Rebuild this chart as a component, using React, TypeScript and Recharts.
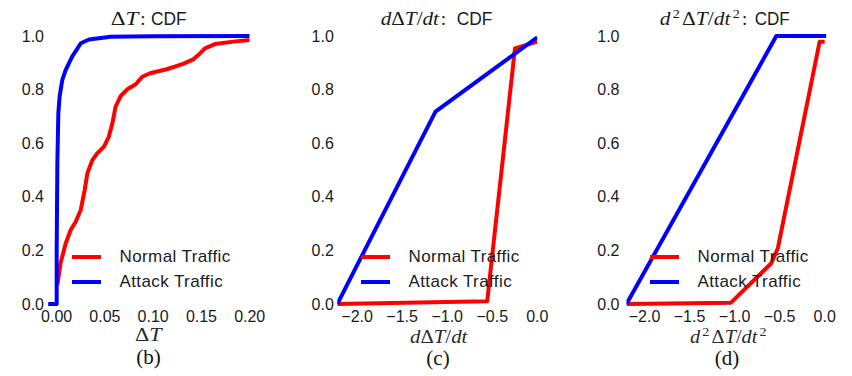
import React from 'react';
import { LineChart, Line, XAxis, YAxis, Legend } from 'recharts';

const RED = '#ff0000';
const BLUE = '#0000ff';
const INK = '#1a1a1a';
const SANS = '"Liberation Sans", Arial, Helvetica, sans-serif';
const SERIF = '"Liberation Serif", "Times New Roman", serif';

const seriesNames = ['Normal Traffic', 'Attack Traffic'];
const cdfTicks = [0, 0.2, 0.4, 0.6, 0.8, 1.0];

// (b) ΔT
const dtTicks = [0, 0.05, 0.1, 0.15, 0.2];
const dtNormalX = [0.0007, 0.004, 0.0093, 0.0145, 0.0197, 0.0249, 0.029, 0.0318, 0.037, 0.042, 0.049, 0.054, 0.0577, 0.061, 0.0663, 0.0732, 0.0819, 0.0887, 0.0967, 0.114, 0.131, 0.1416, 0.1485, 0.1537, 0.164, 0.183, 0.2];
const dtNormalY = [0.071, 0.152, 0.226, 0.276, 0.307, 0.351, 0.425, 0.488, 0.537, 0.562, 0.587, 0.624, 0.674, 0.736, 0.776, 0.801, 0.82, 0.848, 0.861, 0.876, 0.896, 0.913, 0.935, 0.954, 0.97, 0.979, 0.985];
const dtAttackX = [-0.0088, 0, 0, 0.0007, 0.0017, 0.003, 0.0058, 0.0093, 0.016, 0.025, 0.0335, 0.056, 0.1, 0.2];
const dtAttackY = [0, 0, 0.2, 0.525, 0.71, 0.774, 0.836, 0.873, 0.923, 0.973, 0.987, 0.997, 0.999, 1.0];

// (c) dΔT/dt
const derivTicks = [-2, -1.5, -1, -0.5, 0];
const d1NormalX = [-2.22, -0.556, -0.248, 0];
const d1NormalY = [0, 0.01, 0.954, 0.979];
const d1AttackX = [-2.22, -1.13, 0];
const d1AttackY = [0, 0.718, 0.995];

// (d) d²ΔT/dt²
const d2NormalX = [-2.2, -1.04, -0.593, -0.52, -0.056, 0];
const d2NormalY = [0, 0.005, 0.152, 0.208, 0.979, 0.979];
const d2AttackX = [-2.2, -0.537, 0.018];
const d2AttackY = [0, 1, 1];

const zip = (xs: number[], ys: number[]) => xs.map((x, i) => ({ x, y: ys[i] }));

const fmtMinus = (d: number) => (v: number) => v.toFixed(d).replace('-', '\u2212');

const CdfLegend = (props: any) => {
  const items = [...(props.payload || [])].sort(
    (a: any, b: any) => seriesNames.indexOf(a.value) - seriesNames.indexOf(b.value)
  );
  return (
    <div style={{ fontFamily: SANS, fontSize: 17, letterSpacing: 0.4, color: INK }}>
      {items.map((it: any) => (
        <div key={it.value} style={{ display: 'flex', alignItems: 'center', height: 24.4, whiteSpace: 'nowrap' }}>
          <span style={{ display: 'inline-block', width: 28.5, height: 4, background: it.color, marginRight: 19 }} />
          <span>{it.value}</span>
        </div>
      ))}
    </div>
  );
};

interface PanelProps {
  chartLeft: number;
  chartWidth: number;
  plotLeft: number;
  plotRight: number;
  domain: [number, number];
  ticks: number[];
  xFmt: (v: number) => string;
  normal: { x: number; y: number }[];
  attack: { x: number; y: number }[];
  yMargin: number;
  legendX: number;
}

const Panel: React.FC<PanelProps> = (p) => {
  const tickStyle = { fontFamily: SANS, fontSize: 16, fill: INK };
  return (
    <div style={{ position: 'absolute', left: p.chartLeft, top: 0 }}>
      <LineChart
        width={p.chartWidth}
        height={376}
        margin={{ top: 36, right: p.chartLeft + p.chartWidth - p.plotRight, bottom: 42, left: 0 }}
      >
        <XAxis
          dataKey="x"
          type="number"
          domain={p.domain}
          ticks={p.ticks}
          tickFormatter={p.xFmt}
          allowDataOverflow
          axisLine={false}
          tickLine={false}
          tickSize={0}
          tickMargin={7}
          height={30}
          tick={tickStyle}
          interval={0}
        />
        <YAxis
          type="number"
          domain={[0, 1]}
          ticks={cdfTicks}
          tickFormatter={(v: number) => v.toFixed(1)}
          axisLine={false}
          tickLine={false}
          tickSize={0}
          tickMargin={p.yMargin}
          width={p.plotLeft - p.chartLeft}
          tick={tickStyle}
          interval={0}
        />
        <Legend
          layout="horizontal"
          verticalAlign="middle"
          align="center"
          itemSorter={null as any}
          content={CdfLegend}
          wrapperStyle={{ left: p.legendX - p.chartLeft, top: 245, width: 200 }}
        />
        <Line data={p.normal} dataKey="y" name={seriesNames[0]} type="linear" stroke={RED} strokeWidth={4}
          strokeLinejoin="round" dot={false} activeDot={false} isAnimationActive={false} />
        <Line data={p.attack} dataKey="y" name={seriesNames[1]} type="linear" stroke={BLUE} strokeWidth={4}
          strokeLinejoin="round" dot={false} activeDot={false} isAnimationActive={false} />
      </LineChart>
    </div>
  );
};

const math = { fontFamily: SERIF, fontSize: 19, fill: INK };
const cdf = { fontFamily: SANS, fontSize: 17.5, fill: INK };
const xlab = { fontFamily: SERIF, fontSize: 18, fill: '#2a2a2a' };
const letter = { fontFamily: SERIF, fontSize: 21, fill: '#111' };

const Overlay = () => (
  <svg width={852} height={376} style={{ position: 'absolute', left: 0, top: 0, pointerEvents: 'none' }}>
    {/* titles */}
    <text x={110.7} y={25} textLength={27.6} lengthAdjust="spacingAndGlyphs" style={math}>
      <tspan>Δ</tspan><tspan fontStyle="italic">T</tspan>
    </text>
    <text x={143} y={25} textAnchor="middle" style={math}>:</text>
    <text x={151} y={25} textLength={35.7} lengthAdjust="spacingAndGlyphs" style={cdf}>CDF</text>

    <text x={380.7} y={25} textLength={58.3} lengthAdjust="spacingAndGlyphs" style={math}>
      <tspan fontStyle="italic">d</tspan><tspan>Δ</tspan><tspan fontStyle="italic">T</tspan><tspan>/</tspan><tspan fontStyle="italic">dt</tspan>
    </text>
    <text x={443.3} y={25} textAnchor="middle" style={math}>:</text>
    <text x={456.7} y={25} textLength={35.6} lengthAdjust="spacingAndGlyphs" style={cdf}>CDF</text>

    <text x={659.7} y={25} textLength={80} lengthAdjust="spacingAndGlyphs" style={math}>
      <tspan fontStyle="italic">d</tspan><tspan fontSize={12.5} dx={2} dy={-7}>2</tspan><tspan dx={2} dy={7}>Δ</tspan>
      <tspan fontStyle="italic">T</tspan><tspan>/</tspan><tspan fontStyle="italic">dt</tspan>
      <tspan fontSize={12.5} dx={2} dy={-7}>2</tspan>
    </text>
    <text x={744.7} y={25} textAnchor="middle" style={math}>:</text>
    <text x={754.7} y={25} textLength={35} lengthAdjust="spacingAndGlyphs" style={cdf}>CDF</text>

    {/* x labels */}
    <text x={148.4} y={341} textAnchor="middle" textLength={26.7} lengthAdjust="spacingAndGlyphs" style={xlab}>
      <tspan>Δ</tspan><tspan fontStyle="italic">T</tspan>
    </text>
    <text x={438.7} y={342.5} textAnchor="middle" textLength={57.3} lengthAdjust="spacingAndGlyphs" style={xlab}>
      <tspan fontStyle="italic">d</tspan><tspan>Δ</tspan><tspan fontStyle="italic">T</tspan><tspan>/</tspan><tspan fontStyle="italic">dt</tspan>
    </text>
    <text x={728.3} y={342.5} textAnchor="middle" textLength={76.7} lengthAdjust="spacingAndGlyphs" style={xlab}>
      <tspan fontStyle="italic">d</tspan><tspan fontSize={12.5} dx={2} dy={-7}>2</tspan><tspan dx={2} dy={7}>Δ</tspan>
      <tspan fontStyle="italic">T</tspan><tspan>/</tspan><tspan fontStyle="italic">dt</tspan>
      <tspan fontSize={12.5} dx={2} dy={-7}>2</tspan>
    </text>

    {/* panel letters */}
    <text x={148.4} y={364} textAnchor="middle" style={letter}>(b)</text>
    <text x={438} y={365} textAnchor="middle" style={letter}>(c)</text>
    <text x={727} y={365} textAnchor="middle" style={letter}>(d)</text>
  </svg>
);

export default function App() {
  return (
    <div style={{ position: 'absolute', left: 0, top: 0, width: 852, height: 376, background: '#fff', overflow: 'hidden' }}>
      <Panel
        chartLeft={0}
        chartWidth={280}
        plotLeft={48}
        plotRight={249.7}
        domain={[-0.009, 0.2]}
        ticks={dtTicks}
        xFmt={(v: number) => v.toFixed(2)}
        normal={zip(dtNormalX, dtNormalY)}
        attack={zip(dtAttackX, dtAttackY)}
        yMargin={4}
        legendX={72}
      />
      <Panel
        chartLeft={280}
        chartWidth={280}
        plotLeft={337.3}
        plotRight={537.3}
        domain={[-2.22, 0]}
        ticks={derivTicks}
        xFmt={fmtMinus(1)}
        normal={zip(d1NormalX, d1NormalY)}
        attack={zip(d1AttackX, d1AttackY)}
        yMargin={3.5}
        legendX={361}
      />
      <Panel
        chartLeft={570}
        chartWidth={282}
        plotLeft={626.5}
        plotRight={826.5}
        domain={[-2.2, 0.02]}
        ticks={derivTicks}
        xFmt={fmtMinus(1)}
        normal={zip(d2NormalX, d2NormalY)}
        attack={zip(d2AttackX, d2AttackY)}
        yMargin={7}
        legendX={650}
      />
      <Overlay />
    </div>
  );
}
